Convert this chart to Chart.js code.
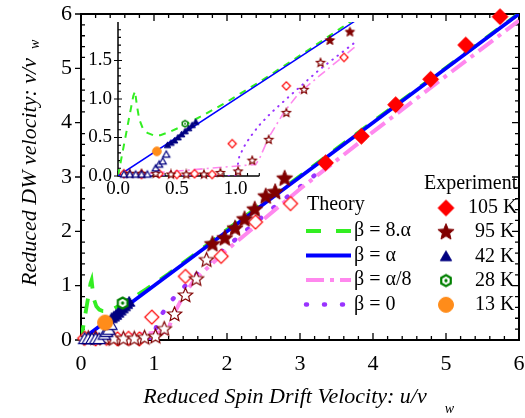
<!DOCTYPE html>
<html>
<head>
<meta charset="utf-8">
<script src="https://cdn.jsdelivr.net/npm/chart.js@4.4.0/dist/chart.umd.min.js"></script>
<style>
  html, body { margin: 0; padding: 0; background: #fff; }
  #wrap { position: relative; width: 525px; height: 418px; }
  #main { position: absolute; left: 0; top: 0; }
  #inset { position: absolute; left: 80px; top: 10px; }
</style>
</head>
<body>
<div id="wrap">
  <canvas id="main" width="525" height="418"></canvas>
  <canvas id="inset" width="300" height="200"></canvas>
</div>
<script>
// ===== values =====
const xTicks = [0, 1, 2, 3, 4, 5, 6];
const yTicks = [0, 1, 2, 3, 4, 5, 6];
const insetXTicks = [0, 0.5, 1.0];
const insetYTicks = [0, 0.5, 1.0, 1.5];

// theory curves (u, v)
const uBeta8 = [0, 0.02, 0.06, 0.10, 0.13, 0.145, 0.16, 0.18, 0.21, 0.25, 0.30, 0.36, 0.45, 0.55, 0.70, 0.90, 1.20, 1.60, 2.00, 3.00, 4.00, 5.00, 6.00];
const vBeta8 = [0, 0.16, 0.48, 0.80, 1.04, 1.10, 0.92, 0.74, 0.62, 0.56, 0.53, 0.53, 0.58, 0.65, 0.77, 0.94, 1.22, 1.62, 2.03, 3.02, 4.02, 5.01, 6.01];
const uBeta1 = [0, 6];
const vBeta1 = [0, 6];
const uBeta18 = [0, 1.17, 1.20, 1.28, 1.41, 1.54, 1.71, 2.00, 2.50, 3.00, 4.00, 5.00, 6.00];
const vBeta18 = [0, 0.15, 0.22, 0.50, 0.83, 1.08, 1.30, 1.66, 2.22, 2.78, 3.83, 4.86, 5.88];
const uBeta0 = [0, 1.00, 1.03, 1.07, 1.12, 1.20, 1.30, 1.43, 1.54, 1.71, 2.00, 2.64, 3.20];
const vBeta0 = [0, 0, 0.25, 0.38, 0.50, 0.66, 0.82, 1.00, 1.15, 1.38, 1.72, 2.44, 3.03];

// experiment
const u105 = [3.35, 3.84, 4.31, 4.79, 5.27, 5.74];
const v105 = [3.26, 3.75, 4.33, 4.80, 5.43, 5.95];
const u105open = [0.05, 0.20, 0.35, 0.50, 0.65, 0.80, 0.97, 1.43, 1.92, 2.39, 2.87];
const v105open = [0.03, 0.02, 0.03, 0.02, 0.03, 0.02, 0.42, 1.17, 1.54, 2.17, 2.51];
const u95 = [1.80, 1.97, 2.11, 2.24, 2.38, 2.53, 2.66, 2.79];
const v95 = [1.76, 1.87, 2.05, 2.22, 2.40, 2.64, 2.72, 2.97];
const u95open = [0.10, 0.20, 0.32, 0.45, 0.58, 0.73, 0.87, 1.02, 1.14, 1.28, 1.43, 1.58, 1.72];
const v95open = [0.03, 0.03, 0.03, 0.02, 0.02, 0.02, 0.04, 0.06, 0.20, 0.47, 0.82, 1.12, 1.47];
const u42 = [0.42, 0.45, 0.48, 0.51, 0.54, 0.57, 0.60, 0.63, 0.66];
const v42 = [0.40, 0.43, 0.46, 0.50, 0.54, 0.58, 0.62, 0.66, 0.70];
const u42open = [0.05, 0.10, 0.15, 0.20, 0.25, 0.32, 0.35, 0.38, 0.41];
const v42open = [0.02, 0.02, 0.02, 0.02, 0.02, 0.10, 0.15, 0.19, 0.28];
const u28 = [0.57];
const v28 = [0.68];
const u13 = [0.33];
const v13 = [0.32];

const theoryLabels = ['β = 8.α', 'β = α', 'β = α/8', 'β = 0'];
const expLabels = ['105 K', '95 K', '42 K', '28 K', '13 K'];

// ===== styling =====
const SERIF = '"Liberation Serif", "Times New Roman", Times, serif';
Chart.defaults.font.family = SERIF;
const RED = '#ff0000', MAROON = '#800000', NAVY = '#000080', DKGREEN = '#008000', ORANGE = '#ff8c1a';
const LIME = '#33ee22', BLUE = '#0000ff', PINK = '#ff88ee', PURPLE = '#9933ff';

function pts(us, vs) { return us.map((u, i) => ({ x: u, y: vs[i] })); }

function makeMarker(kind, r, fill, stroke, lw) {
  const s = Math.ceil(2 * r + lw + 2);
  const c = document.createElement('canvas');
  c.width = s; c.height = s;
  const g = c.getContext('2d');
  const cx = s / 2, cy = s / 2;
  g.beginPath();
  if (kind === 'star') {
    for (let i = 0; i < 10; i++) {
      const rr = i % 2 ? r * 0.45 : r;
      const a = -Math.PI / 2 + i * Math.PI / 5;
      g.lineTo(cx + rr * Math.cos(a), cy + rr * Math.sin(a));
    }
  } else if (kind === 'diamond') {
    g.moveTo(cx, cy - r); g.lineTo(cx + r, cy); g.lineTo(cx, cy + r); g.lineTo(cx - r, cy);
  } else if (kind === 'tri') {
    for (let i = 0; i < 3; i++) {
      const a = -Math.PI / 2 + i * 2 * Math.PI / 3;
      g.lineTo(cx + r * Math.cos(a), cy + 0.15 * r + r * Math.sin(a));
    }
  } else if (kind === 'hex') {
    for (let i = 0; i < 6; i++) {
      const a = -Math.PI / 2 + i * Math.PI / 3;
      g.lineTo(cx + r * Math.cos(a), cy + r * Math.sin(a));
    }
  } else {
    g.arc(cx, cy, r, 0, Math.PI * 2);
  }
  g.closePath();
  if (fill) { g.fillStyle = fill; g.fill(); }
  if (stroke) { g.lineWidth = lw; g.strokeStyle = stroke; g.stroke(); }
  if (kind === 'hex') {
    g.beginPath(); g.arc(cx, cy, r * 0.3, 0, Math.PI * 2);
    g.fillStyle = stroke; g.fill();
  }
  return c;
}

function markers(k) {
  return {
    d105: makeMarker('diamond', 8 * k, RED, RED, 1),
    d105o: makeMarker('diamond', 7 * k, '#fff', RED, 1.2),
    s95: makeMarker('star', 8.5 * k, MAROON, MAROON, 1),
    s95o: makeMarker('star', 7.5 * k, '#fff', MAROON, 1.2),
    t42: makeMarker('tri', 6.5 * k, NAVY, NAVY, 1),
    t42o: makeMarker('tri', 7 * k, '#fff', NAVY, 1.2),
    h28: makeMarker('hex', 5.5 * k, '#fff', DKGREEN, 2.2 * Math.max(k, 0.7)),
    c13: makeMarker('circle', 7.5 * k, ORANGE, ORANGE, 1)
  };
}

function scatterSet(us, vs, img, order, clip) {
  return { type: 'scatter', data: pts(us, vs), pointStyle: img, pointRadius: 5,
           showLine: false, order: order, clip: clip };
}

function buildDatasets(inset) {
  const m = markers(inset ? 0.58 : 1);
  const clip = inset ? { left: 8, top: 8, right: 0, bottom: 8 } : false;
  return [
    scatterSet(u105open, v105open, m.d105o, 9, clip),
    scatterSet(u95open, v95open, m.s95o, 8, clip),
    scatterSet(u42open, v42open, m.t42o, 7, clip),
    scatterSet(u105, v105, m.d105, 3, clip),
    scatterSet(u95, v95, m.s95, 4, clip),
    scatterSet(u42, v42, m.t42, 5, clip),
    scatterSet(u28, v28, m.h28, 2, clip),
    scatterSet(u13, v13, m.c13, 1, clip),
    { type: 'line', data: pts(uBeta1, vBeta1), borderColor: BLUE, borderWidth: inset ? 1.5 : 3.8,
      pointRadius: 0, order: 20 },
    { type: 'line', data: pts(uBeta8, vBeta8), borderColor: LIME, borderWidth: inset ? 2 : 3.8,
      borderDash: inset ? [7, 6] : [15, 12], pointRadius: 0, order: 21 },
    { type: 'line', data: pts(uBeta18, vBeta18), borderColor: PINK, borderWidth: inset ? 1.6 : 4,
      borderDash: inset ? [9, 4, 2, 4] : [18, 6, 4, 6], pointRadius: 0, order: 22 },
    { type: 'line', data: pts(uBeta0, vBeta0), borderColor: PURPLE, borderWidth: inset ? 2 : 4.5,
      borderDash: inset ? [0.5, 6] : [1, 16], borderCapStyle: 'round', pointRadius: 0, order: 23 }
  ];
}

// keep the plot box where the layout padding puts it (no room added for label overhang)
function noOverhang(s) {
  s.paddingLeft = 0; s.paddingRight = 0; s.paddingTop = 0; s.paddingBottom = 0;
}

// tick labels drawn at the scale's own pixel positions
function drawTickLabels(ctx, x, y, a, xs, ys, size, xGap, yGap, fmt) {
  ctx.save();
  ctx.fillStyle = '#000';
  ctx.font = `${size}px ${SERIF}`;
  ctx.textBaseline = 'middle';
  ctx.textAlign = 'center';
  xs.forEach(v => ctx.fillText(fmt(v), x.getPixelForValue(v), a.bottom + xGap));
  ctx.textAlign = 'right';
  ys.forEach(v => ctx.fillText(fmt(v), a.left - yGap, y.getPixelForValue(v)));
  ctx.restore();
}

const hiddenTicks = { display: false };

// ===== main chart decorations =====
const mainFrame = {
  id: 'mainFrame',
  beforeDatasetsDraw(chart) {
    const { ctx, chartArea: a, scales: { x, y } } = chart;
    ctx.save();
    ctx.strokeStyle = '#000';
    ctx.lineWidth = 2;
    ctx.strokeRect(a.left, a.top, a.right - a.left, a.bottom - a.top);
    ctx.lineWidth = 1.3;
    ctx.beginPath();
    for (let i = 0; i <= 30; i++) {
      const v = i * 0.2;
      const major = i % 5 === 0;
      const len = major ? 7 : 4;
      const px = x.getPixelForValue(v), py = y.getPixelForValue(v);
      ctx.moveTo(px, a.bottom); ctx.lineTo(px, a.bottom - len);
      ctx.moveTo(px, a.top); ctx.lineTo(px, a.top + len);
      ctx.moveTo(a.right, py); ctx.lineTo(a.right - len, py);
      if (major) { ctx.moveTo(a.left - 6, py); ctx.lineTo(a.left, py); }
      else { ctx.moveTo(a.left, py); ctx.lineTo(a.left + 4, py); }
    }
    ctx.stroke();
    ctx.restore();
    drawTickLabels(ctx, x, y, a, xTicks, yTicks, 22, 24, 9, v => String(v));
  },
  afterDraw(chart) {
    const ctx = chart.ctx;
    ctx.save();
    ctx.fillStyle = '#000';
    // axis titles
    ctx.font = `italic 22px ${SERIF}`;
    ctx.textBaseline = 'alphabetic';
    ctx.textAlign = 'left';
    const xt = 'Reduced Spin Drift Velocity: u/v';
    const xw = ctx.measureText(xt).width;
    const x0 = 285 - xw / 2;
    ctx.fillText(xt, x0, 403);
    ctx.font = `italic 14px ${SERIF}`;
    ctx.fillText('w', x0 + xw + 18, 413);

    ctx.translate(36, 0);
    ctx.rotate(-Math.PI / 2);
    ctx.font = `italic 22px ${SERIF}`;
    const yt = 'Reduced DW velocity: v/v';
    const yw = ctx.measureText(yt).width;
    const y0 = -172 - yw / 2;
    ctx.fillText(yt, y0, 0);
    ctx.font = `italic 14px ${SERIF}`;
    ctx.fillText('w', y0 + yw + 9, 3);
    ctx.setTransform(1, 0, 0, 1, 0, 0);

    // theory legend
    ctx.font = `20px ${SERIF}`;
    ctx.textBaseline = 'middle';
    ctx.fillText('Theory', 307, 205);
    const lineStyles = [
      { c: LIME, w: 3.8, d: [15, 15], cap: 'butt' },
      { c: BLUE, w: 3.8, d: [], cap: 'butt' },
      { c: PINK, w: 4, d: [18, 6, 4, 6], cap: 'butt' },
      { c: PURPLE, w: 4.5, d: [1, 17], cap: 'round' }
    ];
    theoryLabels.forEach((lab, i) => {
      const yy = 231 + i * 24.5;
      const st = lineStyles[i];
      ctx.save();
      ctx.strokeStyle = st.c; ctx.lineWidth = st.w; ctx.setLineDash(st.d); ctx.lineCap = st.cap;
      ctx.beginPath(); ctx.moveTo(306, yy); ctx.lineTo(351, yy); ctx.stroke();
      ctx.restore();
      ctx.fillText(lab, 354, yy);
    });

    // experiment legend
    ctx.fillText('Experiment', 424, 184);
    const m = markers(1);
    const imgs = [m.d105, m.s95, m.t42, m.h28, m.c13];
    expLabels.forEach((lab, i) => {
      const yy = 208 + i * 24.2;
      const img = imgs[i];
      ctx.drawImage(img, 446 - img.width / 2, yy - img.height / 2);
      ctx.fillText(lab, lab.length > 4 ? 468 : 475, yy);
    });
    ctx.restore();
  }
};

new Chart(document.getElementById('main'), {
  type: 'scatter',
  data: { datasets: buildDatasets(false) },
  options: {
    responsive: false,
    devicePixelRatio: 1,
    animation: false,
    layout: { padding: { left: 0, top: 14, right: 3, bottom: 0 } },
    plugins: { legend: { display: false }, tooltip: { enabled: false } },
    scales: {
      x: {
        type: 'linear', min: 0, max: 6,
        afterBuildTicks: s => { s.ticks = xTicks.map(v => ({ value: v })); },
        afterFit: s => { s.height = 78; noOverhang(s); },
        grid: { display: false, drawTicks: false },
        border: { display: false },
        ticks: hiddenTicks
      },
      y: {
        type: 'linear', min: 0, max: 6,
        afterBuildTicks: s => { s.ticks = yTicks.map(v => ({ value: v })); },
        afterFit: s => { s.width = 81; noOverhang(s); },
        grid: { display: false, drawTicks: false },
        border: { display: false },
        ticks: hiddenTicks
      }
    }
  },
  plugins: [mainFrame]
});

// ===== inset =====
const insetFrame = {
  id: 'insetFrame',
  beforeDatasetsDraw(chart) {
    const { ctx, chartArea: a, scales: { x, y } } = chart;
    ctx.save();
    ctx.strokeStyle = '#000';
    ctx.lineWidth = 1.5;
    ctx.beginPath();
    ctx.moveTo(a.left, a.top); ctx.lineTo(a.left, a.bottom); ctx.lineTo(x.getPixelForValue(1.2), a.bottom);
    ctx.stroke();
    ctx.lineWidth = 1.1;
    ctx.beginPath();
    for (let i = 0; i <= 12; i++) {
      const px = x.getPixelForValue(i * 0.1);
      const len = i % 5 === 0 ? 5 : 3;
      ctx.moveTo(px, a.bottom); ctx.lineTo(px, a.bottom - len);
    }
    for (let i = 0; i <= 19; i++) {
      const py = y.getPixelForValue(i * 0.1);
      if (i % 5 === 0) { ctx.moveTo(a.left - 4, py); ctx.lineTo(a.left + 4, py); }
      else { ctx.moveTo(a.left, py); ctx.lineTo(a.left + 3, py); }
    }
    ctx.stroke();
    ctx.restore();
    drawTickLabels(ctx, x, y, a, insetXTicks, insetYTicks, 19, 13, 6, v => v.toFixed(1));
  }
};

new Chart(document.getElementById('inset'), {
  type: 'scatter',
  data: { datasets: buildDatasets(true) },
  options: {
    responsive: false,
    devicePixelRatio: 1,
    animation: false,
    layout: { padding: { left: 0, top: 12, right: 23, bottom: 0 } },
    plugins: { legend: { display: false }, tooltip: { enabled: false } },
    scales: {
      x: {
        type: 'linear', min: 0, max: 2.03,
        afterBuildTicks: s => { s.ticks = insetXTicks.map(v => ({ value: v })); },
        afterFit: s => { s.height = 34; noOverhang(s); },
        grid: { display: false, drawTicks: false },
        border: { display: false },
        ticks: hiddenTicks
      },
      y: {
        type: 'linear', min: 0, max: 2.0,
        afterBuildTicks: s => { s.ticks = insetYTicks.map(v => ({ value: v })); },
        afterFit: s => { s.width = 38; noOverhang(s); },
        grid: { display: false, drawTicks: false },
        border: { display: false },
        ticks: hiddenTicks
      }
    }
  },
  plugins: [insetFrame]
});
</script>
</body>
</html>
